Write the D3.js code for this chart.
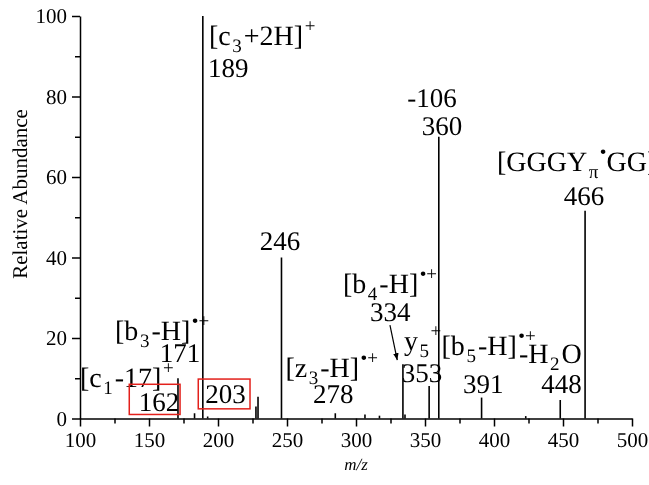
<!DOCTYPE html>
<html><head><meta charset="utf-8">
<script src="https://cdn.jsdelivr.net/npm/d3@7"></script>
<style>body{margin:0;background:#fff;overflow:hidden}svg{display:block;will-change:transform}text{text-rendering:geometricPrecision}</style>
</head><body>
<svg id="chart" width="649" height="485"></svg>
<script>
// ---- data ----
const peakMz   = [171, 183, 189, 192.5, 227.5, 229, 246, 285, 306.5, 317, 334, 335.5, 353, 360, 391, 423, 448, 466];
const peakAbun = [10, 1.3, 100, 0.5, 3, 5.4, 40, 1.3, 1.0, 0.7, 13.5, 1, 8.1, 70, 5.2, 0.6, 4.6, 51.6];
const xMajorTicks = [100, 150, 200, 250, 300, 350, 400, 450, 500];
const xMinorTicks = [125, 175, 225, 275, 325, 375, 425, 475];
const yMajorTicks = [0, 20, 40, 60, 80, 100];
const yMinorTicks = [10, 30, 50, 70, 90];
// annotation text: segments [text, kind]  (n = normal, sub, sup)
const labelSegs = [
  [["[c","n"],["3","sub"],["+2H]","n"],["+","sup"]],
  [["189","n"]],
  [["-106","n"]],
  [["360","n"]],
  [["[GGGY","n"],["π","sub"],["•","sup"],["GG]","n"],["+","sup"]],
  [["466","n"]],
  [["246","n"]],
  [["[b","n"],["4","sub"],["-H]","n"],["•+","sup"]],
  [["334","n"]],
  [["y","n"],["5","sub"],["+","sup"]],
  [["353","n"]],
  [["[z","n"],["3","sub"],["-H]","n"],["•+","sup"]],
  [["278","n"]],
  [["[b","n"],["5","sub"],["-H]","n"],["•+","sup"]],
  [["-H","n"],["2","sub"],["O","n"]],
  [["391","n"]],
  [["448","n"]],
  [["[b","n"],["3","sub"],["-H]","n"],["•+","sup"]],
  [["171","n"]],
  [["[c","n"],["1","sub"],["-17]","n"],["+","sup"]],
  [["162","n"]],
  [["203","n"]]
];
const labelMz   = [193.5, 192.8, 355.1, 362.3, 402.2, 465.2, 244.9, 290.6, 324.9, 334.8, 347.8, 248.9, 283.6, 362, 418.1, 392.3, 449, 125.4, 172.5, 100, 157.2, 205.4];
const labelAbun = [92.8, 84.8, 77.4, 70.4, 61.5, 53.0, 41.9, 31.2, 24.2, 17.0, 9.1, 10.3, 3.8, 15.8, 13.8, 6.3, 6.3, 19.5, 14.1, 7.8, 1.9, 3.8];
const labelAnchor = ["start","start","middle","middle","start","middle","middle","start","middle","start","middle","start","middle","start","start","middle","middle","start","middle","start","middle","middle"];
// highlight boxes [mz0, mz1, abunTop, abunBottom]
const boxMz0 = [135.7, 185.7], boxMz1 = [172.5, 223.2], boxTop = [8.5, 9.8], boxBot = [1.0, 2.4];
// arrow from (mz, abun) to (mz, abun)
const arrowFrom = [324.6, 23.2], arrowTo = [329.9, 14.5];

// ---- drawing ----
const svg = d3.select("#chart");
const font = "Liberation Serif";
const x = d3.scaleLinear().domain([100, 500]).range([80, 632]);
const y = d3.scaleLinear().domain([0, 100]).range([418.5, 16]);

svg.append("defs").append("marker").attr("id","ah").attr("viewBox","0 0 10 10")
  .attr("refX",10).attr("refY",5).attr("markerWidth",7).attr("markerHeight",7)
  .attr("orient","auto").attr("markerUnits","userSpaceOnUse")
  .append("path").attr("d","M0,1 L10,5 L0,9 z").attr("fill","#000");

// peaks
svg.append("g").selectAll("line").data(peakMz).join("line")
  .attr("x1", d => x(d)).attr("x2", d => x(d))
  .attr("y1", y(0)).attr("y2", (d,i) => y(peakAbun[i]))
  .attr("stroke","#000").attr("stroke-width",1.6);

// axes
function styleAxis(g){
  g.attr("font-family", font);
  g.selectAll("path,line").attr("stroke","#000").attr("stroke-width",1.5);
  g.selectAll("text").attr("font-family",font).attr("font-size",21).attr("fill","#000");
}
const gx = svg.append("g").attr("transform",`translate(0,${y(0)})`)
  .call(d3.axisBottom(x).tickValues(xMajorTicks).tickSize(8).tickSizeOuter(0).tickPadding(6).tickFormat(d3.format("d")));
styleAxis(gx);
const gxm = svg.append("g").attr("transform",`translate(0,${y(0)})`)
  .call(d3.axisBottom(x).tickValues(xMinorTicks).tickSize(5).tickFormat(""));
gxm.select(".domain").remove(); styleAxis(gxm);
const gy = svg.append("g").attr("transform",`translate(${x(100)},0)`)
  .call(d3.axisLeft(y).tickValues(yMajorTicks).tickSize(8).tickSizeOuter(0).tickPadding(5).tickFormat(d3.format("d")));
styleAxis(gy);
const gym = svg.append("g").attr("transform",`translate(${x(100)},0)`)
  .call(d3.axisLeft(y).tickValues(yMinorTicks).tickSize(5).tickFormat(""));
gym.select(".domain").remove(); styleAxis(gym);

// axis titles
svg.append("text").attr("transform","translate(26.5,194) rotate(-90)")
  .attr("text-anchor","middle").attr("font-family",font).attr("font-size",21).text("Relative Abundance");
svg.append("text").attr("x",x(300)).attr("y",470).attr("text-anchor","middle")
  .attr("font-family",font).attr("font-size",17).attr("font-style","italic").text("m/z");

// annotations
const big = 28, num = 27, small = 19;
labelSegs.forEach((segs,i) => {
  const onlyNum = segs.length === 1;
  const t = svg.append("text").attr("x", x(labelMz[i])).attr("y", y(labelAbun[i]))
    .attr("text-anchor", labelAnchor[i]).attr("font-family", font).attr("fill","#000");
  let cur = 0, prev = "n";
  segs.forEach(([s,k]) => {
    const shift = k === "sub" ? 7 : k === "sup" ? -13 : 0;
    const dx = k !== "n" ? 1.5 : (prev === "sub" ? 2 : 0);
    t.append("tspan").attr("dy", shift - cur).attr("dx", dx)
      .attr("font-size", k === "n" ? (onlyNum ? num : big) : small).text(s);
    cur = shift; prev = k;
  });
});

// red boxes
svg.append("g").selectAll("rect").data(boxMz0).join("rect")
  .attr("x", d => x(d)).attr("width", (d,i) => x(boxMz1[i]) - x(d))
  .attr("y", (d,i) => y(boxTop[i])).attr("height", (d,i) => y(boxBot[i]) - y(boxTop[i]))
  .attr("fill","none").attr("stroke","#e3201b").attr("stroke-width",1.5);

// arrow
svg.append("line").attr("x1", x(arrowFrom[0])).attr("y1", y(arrowFrom[1]))
  .attr("x2", x(arrowTo[0])).attr("y2", y(arrowTo[1]))
  .attr("stroke","#000").attr("stroke-width",1.2).attr("marker-end","url(#ah)");
</script>
</body></html>
